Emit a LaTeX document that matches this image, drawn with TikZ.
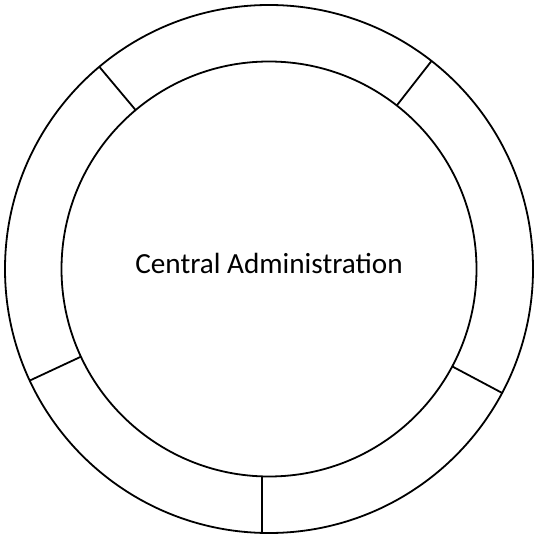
\documentclass[tikz,border=0pt]{standalone}
\usepackage{fontspec}
\setmainfont{Carlito}
\usetikzlibrary{positioning}

\begin{document}
\begin{tikzpicture}[x=1pt,y=1pt,line width=1.8pt,
        main node/.style={circle,draw,inner sep=0pt,outer sep=0pt}]

    \useasboundingbox (0,0) rectangle (534,533);

    \node[main node,minimum size=528pt] (1) at (269,264) {};
    \node[main node,minimum size=415pt,font=\fontsize{29.2}{35}\selectfont,
          text depth=12pt] (2) at (1.center) {Central Administration};

    \path[-]
    (2.130) edge (1.130)

    (2.52)
        edge (1.52)
        (2.205)
        edge (1.205)
        (2.332)
        edge (1.332)
        (2.268)
        edge (2.268 |- 1.south)
        ;

\end{tikzpicture}
\end{document}
